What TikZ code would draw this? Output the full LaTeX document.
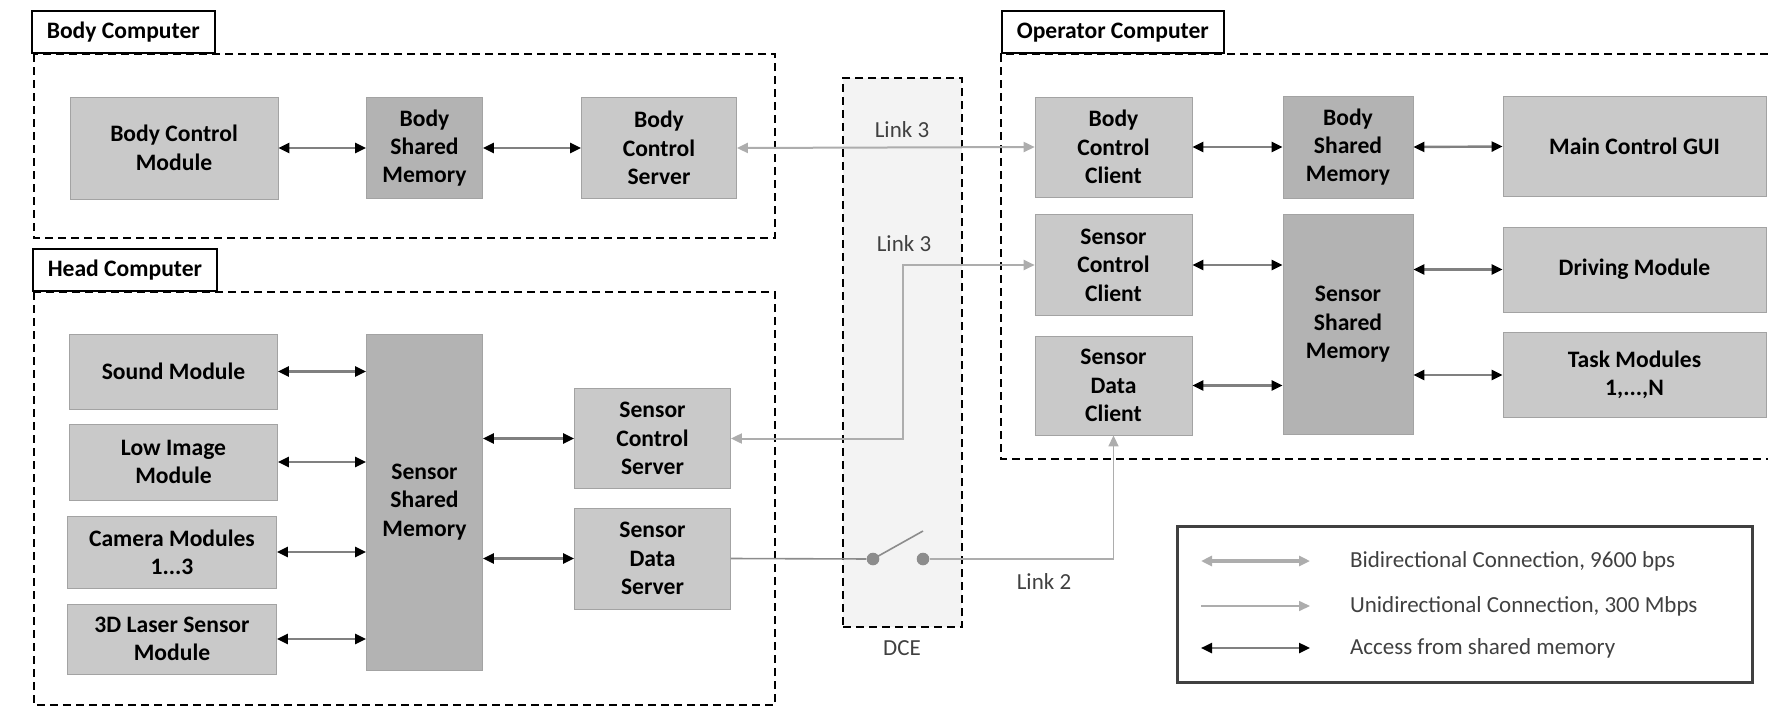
\documentclass[tikz,border=0pt]{standalone}
\usepackage{fontspec}
\setmainfont{Carlito}
\usetikzlibrary{arrows.meta}
\definecolor{BoxGray}{HTML}{C9C9C9}
\definecolor{MemGray}{HTML}{B3B3B3}
\definecolor{EdgeGray}{HTML}{A3A3A3}
\definecolor{LinkGray}{HTML}{ADADAD}
\definecolor{DceGray}{HTML}{F3F3F3}
\definecolor{InkGray}{HTML}{404040}

\begin{document}
\begin{tikzpicture}[
    x=0.5pt,y=-0.5pt,
    module/.style={draw=EdgeGray, fill=BoxGray, align=center, inner sep=2pt,
      font=\fontsize{11.8}{14.2}\selectfont\bfseries},
    memory/.style={module, fill=MemGray},
    tag/.style={draw=black, thick, fill=white, anchor=south west,
      minimum height=21pt, inner xsep=7.5pt,
      font=\fontsize{11.8}{14.2}\selectfont\bfseries},
    group/.style={draw=black, line width=1.1pt, dash pattern=on 4pt off 2.5pt},
    plain/.style={font=\fontsize{11.5}{14}\selectfont, text=InkGray},
    access/.style={{Triangle[length=5.5pt,width=5pt,color=black]}-{Triangle[length=5.5pt,width=5pt,color=black]},
      draw=black!50, line width=1.2pt},
    bilink/.style={{Triangle[length=5.5pt,width=5pt]}-{Triangle[length=5.5pt,width=5pt]},
      draw=LinkGray, line width=1pt},
    unilink/.style={-{Triangle[length=5.5pt,width=5pt]}, draw=LinkGray, line width=0.8pt},
    wire/.style={draw=black!45, line width=0.8pt},
    swdot/.style={circle, fill=black!45, minimum size=6.3pt, inner sep=0pt}
  ]
    \useasboundingbox (0,0) rectangle (1768,713);

    \draw[group] (34,54) rectangle (775,238);
    \node[tag] (bodytag) at (31,54) {Body Computer};

    \draw[group] (34,292) rectangle (775,705);
    \node[tag] (headtag) at (32,292) {Head Computer};

    \draw[group] (1768,54) -- (1001,54) -- (1001,459) -- (1768,459);
    \node[tag] (optag) at (1001,54) {Operator Computer};

    \node[group, fill=DceGray, minimum width=59.5pt, minimum height=274.5pt]
      (dce) at (902.5,352.5) {};
    \node[plain] (dcelabel) at (902,648) {DCE};

    \node[module, minimum width=104pt, minimum height=51pt] (bcm) at (174,148) {Body Control\\Module};
    \node[memory, minimum width=58pt, minimum height=50.5pt] (bsm) at (424.5,148) {Body\\Shared\\Memory};
    \node[module, minimum width=77.5pt, minimum height=50.5pt] (bcs) at (659,148) {Body\\Control\\Server};

    \node[module, minimum width=104pt, minimum height=37.5pt] (sound) at (173.5,371.5) {Sound Module};
    \node[module, minimum width=104pt, minimum height=38pt] (lowimg) at (173.5,462) {Low Image\\Module};
    \node[module, minimum width=104.5pt, minimum height=36pt] (camera) at (172,552) {Camera Modules\\1...3};
    \node[module, minimum width=104.5pt, minimum height=35pt] (laser) at (172,639) {3D Laser Sensor\\Module};
    \node[memory, minimum width=58pt, minimum height=168pt] (hssm) at (424.5,502) {Sensor\\Shared\\Memory};
    \node[module, minimum width=78pt, minimum height=50pt] (scs) at (652.5,438.5) {Sensor\\Control\\Server};
    \node[module, minimum width=78pt, minimum height=50.5pt] (sds) at (652.5,558.5) {Sensor\\Data\\Server};

    \node[module, minimum width=78.4pt, minimum height=50pt] (bcc) at (1113.5,147) {Body\\Control\\Client};
    \node[memory, minimum width=65pt, minimum height=51pt] (obsm) at (1348,147) {Body\\Shared\\Memory};
    \node[module, minimum width=131.5pt, minimum height=50pt] (gui) at (1634.5,146.5) {Main Control GUI};
    \node[module, minimum width=78.4pt, minimum height=50.5pt] (scc) at (1113.5,265) {Sensor\\Control\\Client};
    \node[memory, minimum width=65pt, minimum height=110pt] (ossm) at (1348,324.5) {Sensor\\Shared\\Memory};
    \node[module, minimum width=131.5pt, minimum height=42.5pt] (drive) at (1634.5,269.5) {Driving Module};
    \node[module, minimum width=131.5pt, minimum height=42.5pt] (task) at (1634.5,375) {Task Modules\\1,...,N};
    \node[module, minimum width=78.4pt, minimum height=49.5pt] (sdc) at (1113.5,385.5) {Sensor\\Data\\Client};

    \draw[access] (bcm.east) -- (bsm.west);
    \draw[access] (bsm.east) -- (bcs.west);
    \draw[access] (sound.east) -- (sound.east -| hssm.west);
    \draw[access] (lowimg.east) -- (lowimg.east -| hssm.west);
    \draw[access] (camera.east) -- (camera.east -| hssm.west);
    \draw[access] (laser.east) -- (laser.east -| hssm.west);
    \draw[access] (scs.west -| hssm.east) -- (scs.west);
    \draw[access] (sds.west -| hssm.east) -- (sds.west);
    \draw[access] (bcc.east) -- (obsm.west);
    \draw[access] (obsm.east) -- (gui.west);
    \draw[access] (scc.east) -- (scc.east -| ossm.west);
    \draw[access] (drive.west -| ossm.east) -- (drive.west);
    \draw[access] (sdc.east) -- (sdc.east -| ossm.west);
    \draw[access] (task.west -| ossm.east) -- (task.west);

    \draw[bilink] (bcs.east) -- (bcc.west);
    \node[plain] (link3a) at (902,130) {Link 3};
    \draw[bilink] (scs.east) -| (dce.center) |- (scc.west);
    \node[plain] (link3b) at (904,244) {Link 3};

    \node[swdot] (swa) at (873,559) {};
    \node[swdot] (swb) at (923,559) {};
    \coordinate (lever) at (923,531);
    \draw[wire] (sds.east) -- (swa);
    \draw[wire] (swa.center) -- (lever);
    \draw[unilink] (swb) -| (sdc.south);
    \node[plain] (link2) at (1044,582) {Link 2};

    \node[draw=InkGray, line width=1.5pt, minimum width=287.5pt, minimum height=78pt]
      (legend) at (1464.5,604.5) {};
    \node[plain, anchor=west] (keybi) at (1343,561) {Bidirectional Connection, 9600 bps};
    \node[plain, anchor=west] (keyuni) at (1343,606) {Unidirectional Connection, 300 Mbps};
    \node[plain, anchor=west] (keyacc) at (1343,648) {Access from shared memory};
    \draw[bilink, line width=1.6pt] ([xshift=-71pt]keybi.west) -- ([xshift=-16.5pt]keybi.west);
    \draw[unilink] ([xshift=-71pt]keyuni.west) -- ([xshift=-16.5pt]keyuni.west);
    \draw[access] ([xshift=-71pt]keyacc.west) -- ([xshift=-16.5pt]keyacc.west);
  \end{tikzpicture}
\end{document}
